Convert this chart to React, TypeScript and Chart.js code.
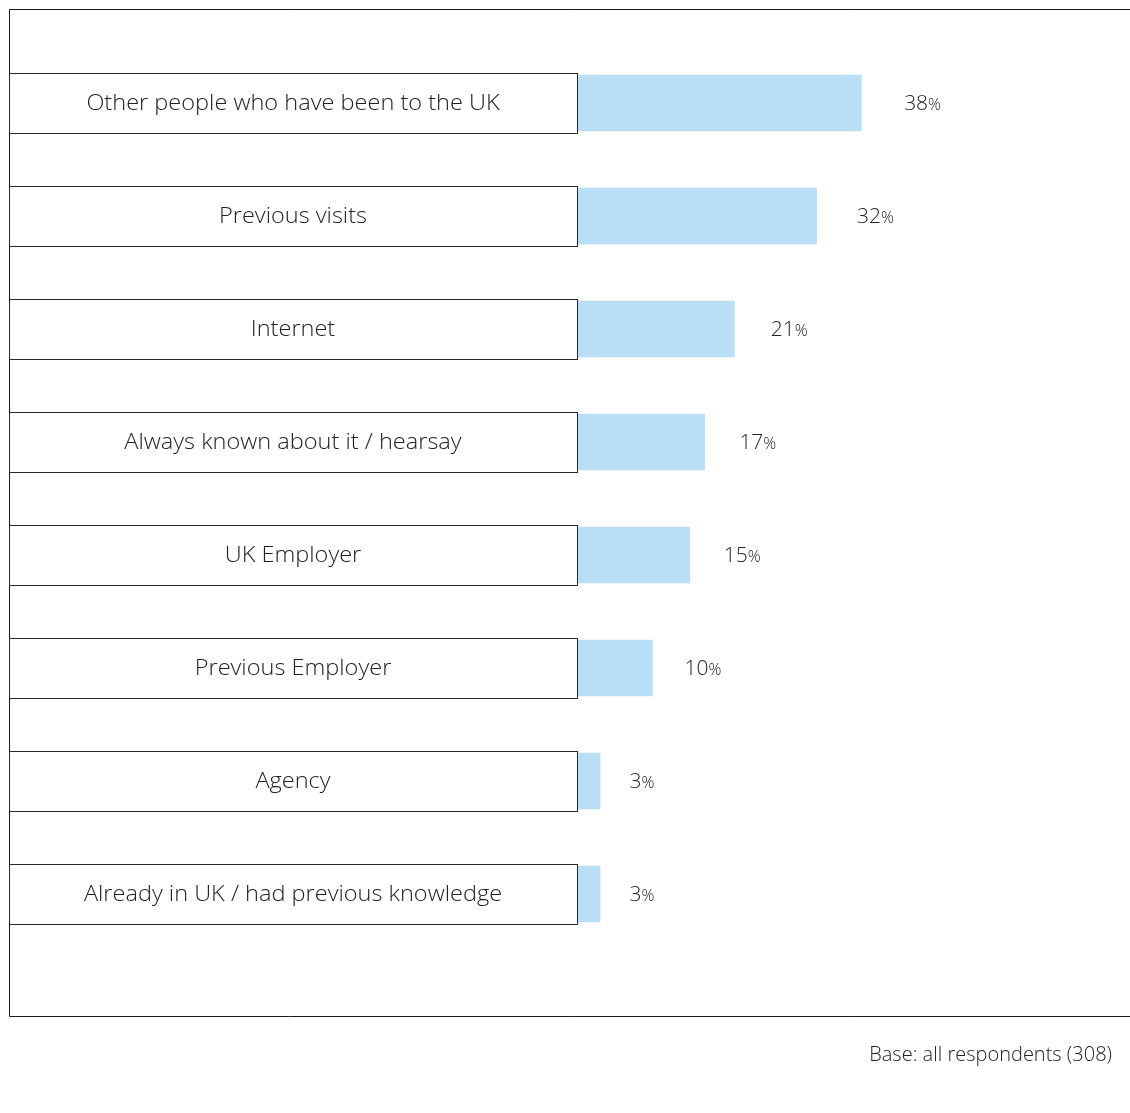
import React, { useEffect, useRef } from "react";
import { Chart, registerables } from "chart.js";

Chart.register(...registerables);

const categories = [
  "Other people who have been to the UK",
  "Previous visits",
  "Internet",
  "Always known about it / hearsay",
  "UK Employer",
  "Previous Employer",
  "Agency",
  "Already in UK / had previous knowledge",
];
const values = [38, 32, 21, 17, 15, 10, 3, 3];
const footnote = "Base: all respondents (308)";

const W = 1130;
const H = 1113;
const FONT = "'Open Sans', 'DejaVu Sans', sans-serif";

const decorPlugin = {
  id: "decor",
  beforeDatasetsDraw(chart: any) {
    const ctx = chart.ctx as CanvasRenderingContext2D;
    const y = chart.scales.y;
    ctx.save();
    // frame
    ctx.strokeStyle = "#1a1a1a";
    ctx.lineWidth = 1;
    ctx.beginPath();
    ctx.moveTo(W, 9.5);
    ctx.lineTo(9.5, 9.5);
    ctx.lineTo(9.5, 1016.5);
    ctx.lineTo(W, 1016.5);
    ctx.stroke();
    // label boxes
    ctx.strokeStyle = "#2a2a2a";
    categories.forEach((c, i) => {
      const cy = y.getPixelForValue(i);
      const top = Math.round(cy - 30.5) + 0.5;
      ctx.fillStyle = "#ffffff";
      ctx.fillRect(9.5, top, 568, 60);
      ctx.strokeRect(9.5, top, 568, 60);
      ctx.save();
      ctx.translate(293, cy + 1);
      ctx.scale(1.07, 1);
      ctx.fillStyle = "#222222";
      ctx.font = `300 22px ${FONT}`;
      ctx.textAlign = "center";
      ctx.textBaseline = "middle";
      ctx.fillText(c, 0, 0);
      ctx.restore();
    });
    ctx.restore();
  },
  afterDatasetsDraw(chart: any) {
    const ctx = chart.ctx as CanvasRenderingContext2D;
    const x = chart.scales.x;
    const y = chart.scales.y;
    ctx.save();
    ctx.fillStyle = "#222222";
    ctx.textBaseline = "middle";
    ctx.textAlign = "left";
    values.forEach((v, i) => {
      const cy = y.getPixelForValue(i);
      const lx = x.getPixelForValue(v) + 28 + v * 0.38;
      ctx.font = `300 21px ${FONT}`;
      const num = String(v);
      ctx.fillText(num, lx, cy + 1);
      const w = ctx.measureText(num).width;
      ctx.font = `300 16px ${FONT}`;
      ctx.fillText("%", lx + w, cy + 2.5);
    });
    ctx.font = `300 20px ${FONT}`;
    ctx.textAlign = "right";
    ctx.fillText(footnote, 1112, 1055);
    ctx.restore();
  },
};

export default function App() {
  const ref = useRef<HTMLCanvasElement>(null);
  useEffect(() => {
    if (!ref.current) return;
    const chart = new Chart(ref.current, {
      type: "bar",
      data: {
        labels: categories,
        datasets: [
          {
            data: values,
            backgroundColor: "#b8dff6",
            borderWidth: 0,
            barPercentage: 0.5,
            categoryPercentage: 1,
          },
        ],
      },
      options: {
        indexAxis: "y",
        responsive: false,
        animation: false,
        layout: { padding: { left: 578, right: 29.4, top: 46.5, bottom: 162.5 } },
        plugins: { legend: { display: false }, tooltip: { enabled: false } },
        scales: {
          x: { display: false, min: 0, max: 70 },
          y: { display: false },
        },
      },
      plugins: [decorPlugin],
    });
    return () => chart.destroy();
  }, []);
  return (
    <div style={{ position: "absolute", left: 0, top: 0, width: W, height: H, background: "#fff" }}>
      <canvas ref={ref} width={W} height={H} style={{ width: W, height: H, display: "block" }} />
    </div>
  );
}
